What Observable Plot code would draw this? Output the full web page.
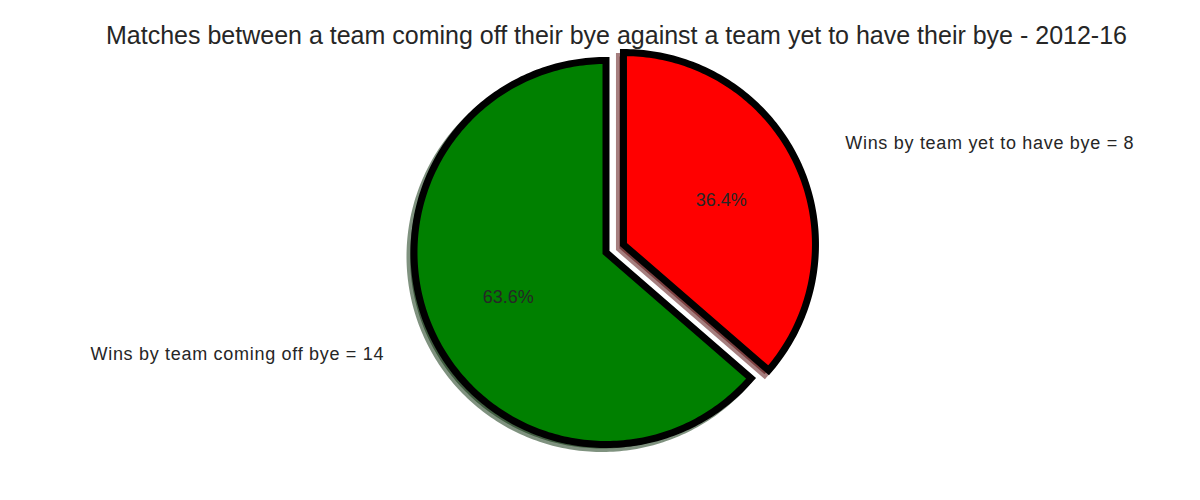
<!DOCTYPE html>
<html>
<head>
<meta charset="utf-8">
<script src="https://cdn.jsdelivr.net/npm/d3@7"></script>
<script src="https://cdn.jsdelivr.net/npm/@observablehq/plot@0.6"></script>
<style>
  body { margin: 0; background: #ffffff; }
  #chart { width: 1200px; height: 500px; }
</style>
</head>
<body>
<div id="chart"></div>
<script>
// ---- data ----
const categories = ["Wins by team coming off bye = 14", "Wins by team yet to have bye = 8"];
const values = [14, 8];
const colors = ["green", "red"];
const explode = [0, 0.1];
const title = "Matches between a team coming off their bye against a team yet to have their bye - 2012-16";

// ---- pie geometry (matplotlib-like: startangle 90, counterclockwise) ----
const startAngle = 90;
const total = d3.sum(values);
const labelDistance = 1.27;
const pctDistance = 0.56;
const rad = Math.PI / 180;

const slices = [];
let a = startAngle;
values.forEach((v, i) => {
  const span = v / total * 360;
  const a0 = a, a1 = a + span, am = (a0 + a1) / 2;
  a = a1;
  const cx = explode[i] * Math.cos(am * rad);
  const cy = explode[i] * Math.sin(am * rad);
  const c = d3.rgb(colors[i]);
  const shadow = d3.rgb(c.r * 0.3, c.g * 0.3, c.b * 0.3).formatHex();
  slices.push({i, name: categories[i], value: v, a0, a1, am, cx, cy, color: colors[i], shadow,
    pct: (v / total * 100).toFixed(1) + "%"});
});

const outline = [];
for (const s of slices) {
  const pts = [];
  const arc = (from, to) => {
    const n = Math.max(2, Math.ceil(Math.abs(to - from)));
    for (let k = 0; k <= n; k++) {
      const t = from + (to - from) * k / n;
      pts.push({x: s.cx + Math.cos(t * rad), y: s.cy + Math.sin(t * rad)});
    }
  };
  arc(s.am, s.a1);
  pts.push({x: s.cx, y: s.cy});
  arc(s.a0, s.am);
  pts.forEach(p => outline.push({...p, slice: s.i, color: s.color, shadow: s.shadow}));
}

const labels = slices.map(s => ({
  x: s.cx + labelDistance * Math.cos(s.am * rad),
  y: s.cy + labelDistance * Math.sin(s.am * rad),
  text: s.name,
  anchor: Math.cos(s.am * rad) >= 0 ? "start" : "end"
}));
const pcts = slices.map(s => ({
  x: s.cx + pctDistance * Math.cos(s.am * rad),
  y: s.cy + pctDistance * Math.sin(s.am * rad),
  text: s.pct
}));

const font = "'Liberation Sans', Arial, sans-serif";
const textColor = "#262626";

const chart = Plot.plot({
  width: 1200,
  height: 500,
  margin: 0,
  style: {background: "#ffffff", fontFamily: font},
  x: {domain: [-605.5 / 192, (1200 - 605.5) / 192], axis: null},
  y: {domain: [-248 / 192, 252 / 192], axis: null},
  marks: [
    // shadows
    Plot.line(outline, {x: "x", y: "y", z: "slice", fill: "shadow", stroke: "shadow",
      fillOpacity: 0.5, strokeOpacity: 0.5, strokeWidth: 7, dx: -4, dy: 4,
      strokeLinejoin: "miter", strokeMiterlimit: 10, strokeLinecap: "round"}),
    // wedges
    Plot.line(outline, {x: "x", y: "y", z: "slice", fill: "color", stroke: "#000000",
      strokeWidth: 7, strokeLinejoin: "miter", strokeMiterlimit: 10, strokeLinecap: "round"}),
    Plot.text(pcts, {x: "x", y: "y", text: "text", fill: textColor, fontSize: 18, textAnchor: "middle"}),
    Plot.text(labels.filter(d => d.anchor === "start"), {x: "x", y: "y", text: "text", fill: textColor,
      fontSize: 18, textAnchor: "start"}),
    Plot.text(labels.filter(d => d.anchor === "end"), {x: "x", y: "y", text: "text", fill: textColor,
      fontSize: 18, textAnchor: "end"}),
    Plot.text([title], {frameAnchor: "top", text: d => d, fill: textColor, fontSize: 25,
      lineAnchor: "middle", dy: 35, dx: 16})
  ]
});
d3.select(chart).selectAll("text")
  .filter(function () { return categories.includes(this.textContent); })
  .style("letter-spacing", "0.7px");
document.getElementById("chart").appendChild(chart);
</script>
</body>
</html>
